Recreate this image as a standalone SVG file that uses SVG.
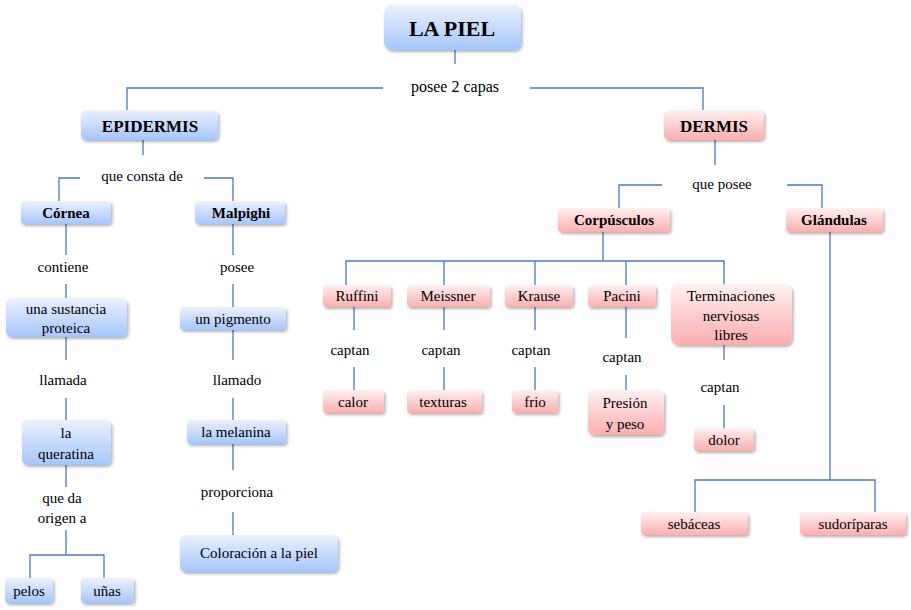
<svg xmlns="http://www.w3.org/2000/svg" width="911" height="610" viewBox="0 0 911 610">
<style>
text{font-family:"Liberation Serif","Times New Roman",serif;font-size:15px;fill:#000;text-anchor:middle}
.b{font-weight:bold}
.bl{fill:url(#gb);filter:url(#sh)}
.pk{fill:url(#gp);filter:url(#sh)}
#c path{stroke:#4a7ab8;stroke-width:1.3;fill:none}
</style>
<defs>
<linearGradient id="gb" x1="0" y1="0" x2="0" y2="1"><stop offset="0" stop-color="#eaf1ff"/><stop offset="1" stop-color="#a6c6fb"/></linearGradient>
<linearGradient id="gp" x1="0" y1="0" x2="0" y2="1"><stop offset="0" stop-color="#fff0f0"/><stop offset="1" stop-color="#fdaeae"/></linearGradient>
<filter id="sh" x="-10%" y="-20%" width="130%" height="150%"><feDropShadow dx="1.5" dy="2" stdDeviation="1.5" flood-color="#000" flood-opacity="0.3"/></filter>
</defs>
<rect width="911" height="610" fill="#fff"/>
<g id="c">
<path d="M455 50V64M127 110V88H383M530 88H703V110"/>
<path d="M143 140V155M59 201V178H80M204 178H233V201"/>
<path d="M66 224V255M66 284V298M66 337V360M66 398V420M66 465V487M66 530V555M30 578V555H104V578"/>
<path d="M233 224V255M233 284V307M233 330V360M233 398V420M233 444V470M233 512V535"/>
<path d="M715 140V165M619 208V185H662M787 185H822V208"/>
<path d="M603 232V261M346 285V261H724V285M444 261V285M535 261V285M626 261V285"/>
<path d="M354 307V330M354 367V390M444 307V330M444 367V390M535 307V330M535 367V390M626 307V338M626 375V390M724 345V360M724 405V428"/>
<path d="M830 232V480M695 512V480H875V512"/>
</g>
<g id="n-piel"><rect class="bl" x="384" y="5" width="137" height="45" rx="8"/><text class="b" x="452" y="36" style="font-size:22px">LA PIEL</text></g>
<g id="l-capas"><text x="455" y="92" style="font-size:16px">posee 2 capas</text></g>
<g id="n-epi"><rect class="bl" x="81" y="110" width="137" height="30" rx="5"/><text class="b" x="150" y="132" style="font-size:17px">EPIDERMIS</text></g>
<g id="n-der"><rect class="pk" x="664" y="110" width="100" height="30" rx="5"/><text class="b" x="714" y="132" style="font-size:17px">DERMIS</text></g>
<g id="l-consta"><text x="142" y="181">que consta de</text></g>
<g id="n-cornea"><rect class="bl" x="21" y="201" width="90" height="23" rx="4"/><text class="b" x="66" y="218">Córnea</text></g>
<g id="n-malp"><rect class="bl" x="195" y="201" width="90" height="23" rx="4"/><text class="b" x="241" y="218">Malpighi</text></g>
<g id="l-contiene"><text x="63" y="272">contiene</text></g>
<g id="n-sust"><rect class="bl" x="6" y="298" width="121" height="39" rx="6"/><text x="66" y="314">una sustancia</text><text x="66" y="333">proteica</text></g>
<g id="l-llamada"><text x="63" y="385">llamada</text></g>
<g id="n-quer"><rect class="bl" x="22" y="420" width="89" height="45" rx="6"/><text x="66" y="438">la</text><text x="66" y="459">queratina</text></g>
<g id="l-origen"><text x="62" y="503">que da</text><text x="62" y="523">origen a</text></g>
<g id="n-pelos"><rect class="bl" x="5" y="578" width="48" height="25" rx="4"/><text x="29" y="596">pelos</text></g>
<g id="n-unas"><rect class="bl" x="81" y="578" width="53" height="25" rx="4"/><text x="107" y="596">uñas</text></g>
<g id="l-posee"><text x="237" y="272">posee</text></g>
<g id="n-pigm"><rect class="bl" x="180" y="307" width="106" height="23" rx="4"/><text x="233" y="324">un pigmento</text></g>
<g id="l-llamado"><text x="237" y="385">llamado</text></g>
<g id="n-mel"><rect class="bl" x="187" y="420" width="99" height="24" rx="4"/><text x="236" y="437">la melanina</text></g>
<g id="l-prop"><text x="237" y="497">proporciona</text></g>
<g id="n-color"><rect class="bl" x="180" y="535" width="158" height="37" rx="6"/><text x="259" y="558">Coloración a la piel</text></g>
<g id="l-que-posee"><text x="722" y="189">que posee</text></g>
<g id="n-corp"><rect class="pk" x="558" y="208" width="112" height="24" rx="4"/><text class="b" x="614" y="225">Corpúsculos</text></g>
<g id="n-gland"><rect class="pk" x="786" y="208" width="97" height="24" rx="4"/><text class="b" x="834" y="225">Glándulas</text></g>
<g id="n-ruf"><rect class="pk" x="323" y="285" width="68" height="22" rx="4"/><text x="357" y="301">Ruffini</text></g>
<g id="n-meis"><rect class="pk" x="407" y="285" width="83" height="22" rx="4"/><text x="448" y="301">Meissner</text></g>
<g id="n-krau"><rect class="pk" x="505" y="285" width="68" height="22" rx="4"/><text x="539" y="301">Krause</text></g>
<g id="n-pac"><rect class="pk" x="588" y="285" width="68" height="22" rx="4"/><text x="622" y="301">Pacini</text></g>
<g id="n-term"><rect class="pk" x="671" y="284" width="121" height="61" rx="8"/><text x="731" y="301">Terminaciones</text><text x="731" y="321">nerviosas</text><text x="731" y="340">libres</text></g>
<g id="l-c1"><text x="350" y="355">captan</text></g>
<g id="l-c2"><text x="441" y="355">captan</text></g>
<g id="l-c3"><text x="531" y="355">captan</text></g>
<g id="l-c4"><text x="622" y="362">captan</text></g>
<g id="l-c5"><text x="720" y="392">captan</text></g>
<g id="n-calor"><rect class="pk" x="323" y="390" width="61" height="23" rx="4"/><text x="353" y="407">calor</text></g>
<g id="n-text"><rect class="pk" x="407" y="390" width="75" height="23" rx="4"/><text x="443" y="407">texturas</text></g>
<g id="n-frio"><rect class="pk" x="512" y="390" width="46" height="23" rx="4"/><text x="535" y="407">frio</text></g>
<g id="n-pres"><rect class="pk" x="588" y="390" width="76" height="45" rx="6"/><text x="625" y="408">Presión</text><text x="625" y="429">y peso</text></g>
<g id="n-dolor"><rect class="pk" x="694" y="428" width="60" height="23" rx="4"/><text x="724" y="445">dolor</text></g>
<g id="n-seb"><rect class="pk" x="641" y="512" width="107" height="23" rx="4"/><text x="694" y="529">sebáceas</text></g>
<g id="n-sud"><rect class="pk" x="800" y="512" width="106" height="23" rx="4"/><text x="853" y="529">sudoríparas</text></g>
</svg>
